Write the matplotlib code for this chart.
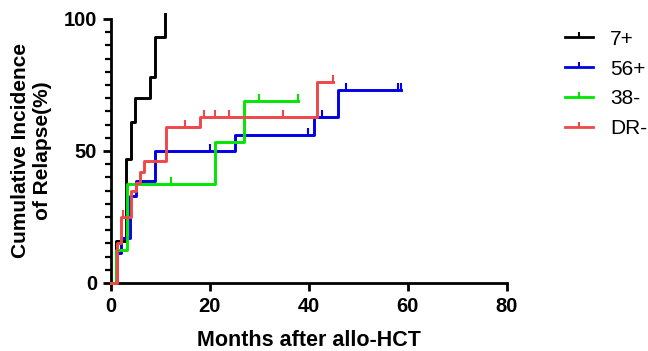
import matplotlib
matplotlib.use("Agg")
import matplotlib.pyplot as plt
import numpy as np
from matplotlib.lines import Line2D

plt.rcParams["font.family"] = ["Liberation Sans", "DejaVu Sans"]

groups = ["7+", "56+", "38-", "DR-"]
colors = ["#000000", "#0000e6", "#00e600", "#f04848"]

# step times (months) and cumulative incidence (%)
t_7p = [0, 1.1, 3.0, 4.1, 4.8, 8.0, 8.9, 11.0]
v_7p = [0, 16, 47, 61, 70, 78, 93, 102]
c_7p = []

t_56p = [0, 1.2, 2.0, 3.9, 5.0, 9.0, 25.0, 41.0, 46.0, 58.7]
v_56p = [0, 11.5, 17, 33, 38.5, 50, 56, 63, 73, 73]
c_56p = [20.0, 39.9, 42.6, 47.6, 58.0, 58.7]

t_38m = [0, 1.15, 3.2, 21.0, 26.9, 37.8]
v_38m = [0, 12.5, 37.5, 53.5, 69, 69]
c_38m = [12.1, 29.9, 37.8]

t_drm = [0, 1.3, 2.1, 4.0, 5.0, 5.9, 6.8, 11.1, 18.1, 41.7, 44.9]
v_drm = [0, 15, 25, 35, 38, 42, 46, 59, 63, 76, 76]
c_drm = [2.4, 15.0, 18.8, 21.0, 23.9, 34.8, 44.9]

times = [t_7p, t_56p, t_38m, t_drm]
values = [v_7p, v_56p, v_38m, v_drm]
censors = [c_7p, c_56p, c_38m, c_drm]

fig = plt.figure(figsize=(6.48, 3.51), dpi=100)
ax = fig.add_axes([0.171, 0.194, 0.611, 0.752])

handles = []
for name, col, t, v, c in zip(groups, colors, times, values, censors):
    ax.step(t, v, where="post", color=col, lw=2.1, clip_on=False, zorder=3)
    if c:
        idx = np.searchsorted(t, c, side="right") - 1
        ax.plot(c, np.array(v)[idx], ls="none", marker=2, ms=5, mew=1.5,
                color=col, clip_on=False, zorder=3)
    handles.append(Line2D([0], [0], color=col, lw=2.0, marker=2, ms=3.5, mew=1.5))

ax.set_xlim(0, 80)
ax.set_ylim(0, 100)
ax.set_xticks([0, 20, 40, 60, 80])
ax.set_yticks([0, 50, 100])
ax.set_yticks(np.arange(0, 101, 5), minor=True)
for s in ["top", "right"]:
    ax.spines[s].set_visible(False)
for s in ["left", "bottom"]:
    ax.spines[s].set_linewidth(2.0)
ax.tick_params(axis="both", which="major", direction="out", length=6, width=2.0,
               labelsize=14.5, pad=4)
ax.tick_params(axis="y", which="minor", direction="out", length=4, width=1.6)
for lab in ax.get_xticklabels() + ax.get_yticklabels():
    lab.set_fontweight("bold")

ax.set_xlabel("Months after allo-HCT", fontsize=15.5, fontweight="bold", labelpad=10)
ax.set_ylabel("Cumulative Incidence\nof Relapse(%)", fontsize=15, fontweight="bold",
              labelpad=8)

leg = ax.legend(handles, groups, loc="upper left", bbox_to_anchor=(1.1, 1.03),
                frameon=False, fontsize=15, handlelength=1.35, labelspacing=0.52,
                handletextpad=0.8, numpoints=1)

fig.savefig("out.png", dpi=100)
